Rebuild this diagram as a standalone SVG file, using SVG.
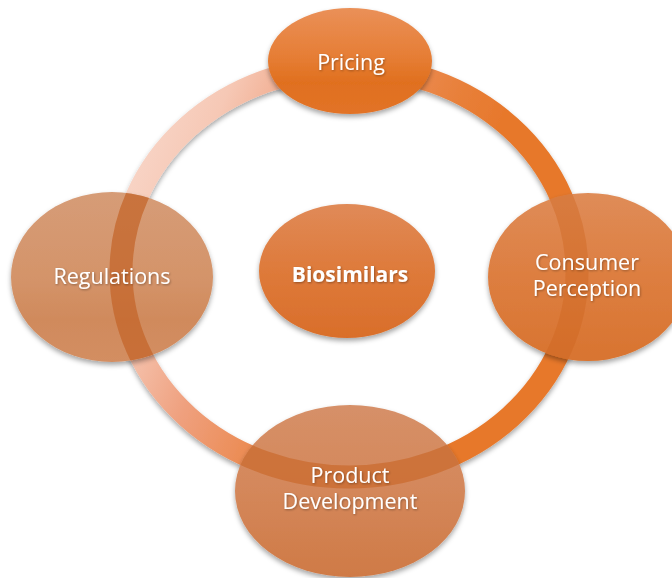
<svg xmlns="http://www.w3.org/2000/svg" width="672" height="578" viewBox="0 0 672 578">
  <defs>
    <style>
      .lbl { font-family: "Open Sans", "Noto Sans", "DejaVu Sans", sans-serif; font-size: 21.5px; fill: #ffffff; text-anchor: middle; filter: url(#txtShadow); }
      .bold { font-weight: bold; font-size: 21px; }
      .band { fill: none; stroke-width: 23; }
    </style>
    <linearGradient id="ringGrad" gradientUnits="userSpaceOnUse" x1="166" y1="69" x2="469" y2="196">
      <stop offset="0" stop-color="#F8D5C7"/>
      <stop offset="0.2" stop-color="#F6C8B5"/>
      <stop offset="0.45" stop-color="#EFA07E"/>
      <stop offset="0.7" stop-color="#EB8A50"/>
      <stop offset="0.85" stop-color="#E8803A"/>
      <stop offset="1" stop-color="#E7782C"/>
    </linearGradient>
    <linearGradient id="gPricing" x1="0" y1="0" x2="0" y2="1">
      <stop offset="0" stop-color="#EA9058"/>
      <stop offset="0.45" stop-color="#E67E36"/>
      <stop offset="0.7" stop-color="#E0701F"/>
      <stop offset="1" stop-color="#E27327"/>
    </linearGradient>
    <linearGradient id="gBio" x1="0" y1="0" x2="0" y2="1">
      <stop offset="0" stop-color="#E08A58"/>
      <stop offset="0.5" stop-color="#DE7A3A"/>
      <stop offset="1" stop-color="#D96E2A"/>
    </linearGradient>
    <linearGradient id="gReg" x1="0" y1="0" x2="0" y2="1">
      <stop offset="0" stop-color="#D69C77"/>
      <stop offset="0.5" stop-color="#D4946A"/>
      <stop offset="0.75" stop-color="#D08A5C"/>
      <stop offset="1" stop-color="#D38E62"/>
    </linearGradient>
    <linearGradient id="gCP" x1="0" y1="0" x2="0" y2="1">
      <stop offset="0" stop-color="#DF8C58"/>
      <stop offset="0.5" stop-color="#DD7E40"/>
      <stop offset="1" stop-color="#D87430"/>
    </linearGradient>
    <linearGradient id="gPD" x1="0" y1="0" x2="0" y2="1">
      <stop offset="0" stop-color="#D69068"/>
      <stop offset="0.5" stop-color="#D4875A"/>
      <stop offset="1" stop-color="#CF7A46"/>
    </linearGradient>
    <filter id="shadow" x="-20%" y="-20%" width="140%" height="150%">
      <feDropShadow dx="0" dy="3" stdDeviation="2.5" flood-color="#000" flood-opacity="0.35"/>
    </filter>
    <filter id="txtShadow" x="-10%" y="-30%" width="120%" height="160%">
      <feDropShadow dx="0.8" dy="1" stdDeviation="0.8" flood-color="#000" flood-opacity="0.35"/>
    </filter>
    <clipPath id="cReg"><ellipse cx="112" cy="277" rx="101" ry="85"/></clipPath>
    <clipPath id="cCP"><ellipse cx="588" cy="277" rx="100" ry="84"/></clipPath>
    <clipPath id="cPD"><ellipse cx="350" cy="491" rx="115" ry="86"/></clipPath>
  </defs>

  <rect width="672" height="578" fill="#ffffff"/>

  <g id="connectors">
    <ellipse class="band" cx="349" cy="272" rx="228" ry="205" stroke="url(#ringGrad)" filter="url(#shadow)"/>
  </g>

  <g id="node-regulations">
    <ellipse cx="112" cy="277" rx="101" ry="85" fill="url(#gReg)" filter="url(#shadow)"/>
    <ellipse class="band" clip-path="url(#cReg)" cx="349" cy="272" rx="228" ry="205" stroke="#C36428" stroke-opacity="0.72"/>
    <text class="lbl" x="112" y="284">Regulations</text>
  </g>

  <g id="node-consumer-perception">
    <ellipse cx="588" cy="277" rx="100" ry="84" fill="url(#gCP)" filter="url(#shadow)"/>
    <ellipse class="band" clip-path="url(#cCP)" cx="349" cy="272" rx="228" ry="205" stroke="#CD641E" stroke-opacity="0.4"/>
    <text class="lbl" x="587" y="269.5">Consumer</text>
    <text class="lbl" x="587" y="296">Perception</text>
  </g>

  <g id="node-product-development">
    <ellipse cx="350" cy="491" rx="115" ry="86" fill="url(#gPD)" filter="url(#shadow)"/>
    <ellipse class="band" clip-path="url(#cPD)" cx="349" cy="272" rx="228" ry="205" stroke="#C86423" stroke-opacity="0.6"/>
    <text class="lbl" x="350" y="482.5">Product</text>
    <text class="lbl" x="350" y="509">Development</text>
  </g>

  <g id="node-pricing">
    <ellipse cx="350" cy="61" rx="82" ry="53" fill="url(#gPricing)" filter="url(#shadow)"/>
    <text class="lbl" x="351" y="70">Pricing</text>
  </g>

  <g id="node-biosimilars">
    <ellipse cx="347" cy="271" rx="88" ry="67" fill="url(#gBio)" filter="url(#shadow)"/>
    <text class="lbl bold" x="350" y="282">Biosimilars</text>
  </g>
</svg>
